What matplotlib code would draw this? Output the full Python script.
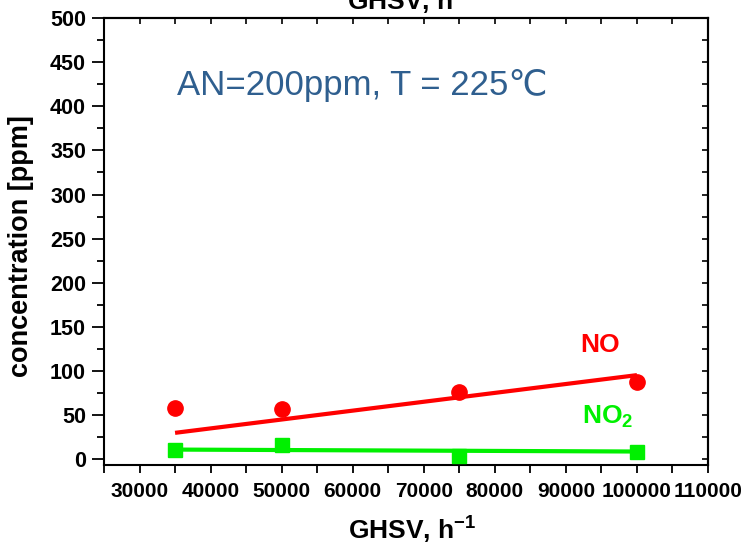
import matplotlib
matplotlib.use("Agg")
import matplotlib.pyplot as plt
from matplotlib.ticker import MultipleLocator

plt.rcParams['font.family'] = ['Liberation Sans', 'DejaVu Sans']
plt.rcParams['mathtext.fontset'] = 'custom'
plt.rcParams['mathtext.rm'] = 'Liberation Sans'
plt.rcParams['mathtext.bf'] = 'Liberation Sans:bold'

# Data
ghsv = [35000, 50000, 75000, 100000]
no_conc = [58, 56, 76, 87]
no2_conc = [9.5, 15.5, 3, 8]
trend_x = [35000, 100000]
no_trend = [29.5, 95]
no2_trend = [10.5, 8.3]

xticks = [30000, 40000, 50000, 60000, 70000, 80000, 90000, 100000, 110000]
yticks = [0, 50, 100, 150, 200, 250, 300, 350, 400, 450, 500]

RED = '#ff0000'
GREEN = '#00f000'
BLUE = '#2f5f8f'

fig = plt.figure(figsize=(7.44, 5.46), dpi=100)
ax = fig.add_axes([104/744, 1-465/546, (708-104)/744, (465-18.3)/546])

ax.plot(trend_x, no_trend, color=RED, lw=3, solid_capstyle='butt', zorder=2)
ax.plot(trend_x, no2_trend, color=GREEN, lw=3, solid_capstyle='butt', zorder=2)
ax.plot(ghsv, no_conc, 'o', color=RED, ms=11, mec=RED, zorder=3)
ax.plot(ghsv, no2_conc, 's', color=GREEN, ms=10, mec=GREEN, zorder=3)

ax.set_xlim(25000, 110000)
ax.set_ylim(-7, 500)
ax.set_xticks(xticks)
ax.set_yticks(yticks)
ax.xaxis.set_minor_locator(MultipleLocator(5000))
ax.yaxis.set_minor_locator(MultipleLocator(25))

for s in ax.spines.values():
    s.set_linewidth(1.5)

ax.tick_params(axis='y', which='major', direction='out', length=9, width=1.3, pad=4)
ax.tick_params(axis='y', which='minor', direction='out', length=5, width=1.3)
ax.tick_params(axis='x', which='major', direction='out', length=6, width=1.3, pad=6)
ax.tick_params(axis='x', which='minor', direction='out', length=6, width=1.3)
for lab in ax.get_xticklabels():
    lab.set_fontweight('bold'); lab.set_fontsize(15)
for lab in ax.get_yticklabels():
    lab.set_fontweight('bold'); lab.set_fontsize(15.5)

top = ax.secondary_xaxis('top')
top.set_xticks(xticks)
top.xaxis.set_minor_locator(MultipleLocator(5000))
top.tick_params(which='both', direction='in', length=4, width=1.2, labeltop=False)
right = ax.secondary_yaxis('right')
right.set_yticks(yticks)
right.yaxis.set_minor_locator(MultipleLocator(25))
right.tick_params(which='both', direction='in', length=4, width=1.2, labelright=False)
for s in list(top.spines.values()) + list(right.spines.values()):
    s.set_linewidth(1.5)

ax.set_xlabel('GHSV, h$^{\\mathbf{-1}}$', fontsize=19, fontweight='bold')
ax.xaxis.set_label_coords(0.51, -0.165)
ax.xaxis.label.set_va('baseline')
ax.set_ylabel('concentration [ppm]', fontsize=19.5, fontweight='bold')
ax.yaxis.set_label_coords(-0.116, 0.49)

# clipped title at top
fig.text(347/744, 1-10/546, 'GHSV, h$^{\\mathbf{-1}}$', fontsize=19, fontweight='bold',
         ha='left', va='baseline')

ax.text(0.121, 0.828, 'AN=200ppm, T = 225\u2103', transform=ax.transAxes,
        fontsize=25, color=BLUE, ha='left', va='baseline')

fig.text(580/744, 1-352/546, 'NO', fontsize=19, fontweight='bold', color=RED,
         ha='left', va='baseline')
fig.text(582/744, 1-423/546, 'NO$_{\\mathbf{2}}$', fontsize=19, fontweight='bold',
         color=GREEN, ha='left', va='baseline')

fig.savefig('out.png', dpi=100)
